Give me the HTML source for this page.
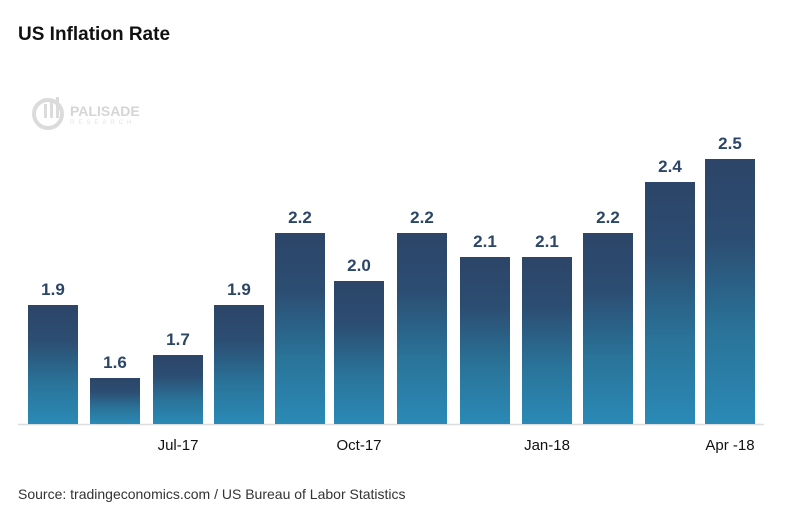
<!DOCTYPE html>
<html><head><meta charset="utf-8"><style>
body{margin:0;background:#fff;width:791px;height:520px;overflow:hidden;font-family:"Liberation Sans",sans-serif}
</style></head><body>
<svg width="791" height="520" xmlns="http://www.w3.org/2000/svg">
<defs><linearGradient id="g" x1="0" y1="0" x2="0" y2="1">
<stop offset="0" stop-color="#2c4568"/><stop offset="0.3" stop-color="#2c4d72"/><stop offset="0.65" stop-color="#2a7399"/><stop offset="1" stop-color="#2a8ab6"/></linearGradient></defs>
<text x="18" y="40" font-size="19" font-weight="bold" fill="#111">US Inflation Rate</text>
<g opacity="0.35">
<circle cx="48" cy="114" r="14" fill="none" stroke="#999" stroke-width="4"/>
<rect x="44" y="104" width="3" height="14" fill="#999"/><rect x="50" y="100" width="3" height="18" fill="#999"/><rect x="56" y="97" width="3" height="21" fill="#999"/>
<text x="70" y="116" font-size="14" fill="#888" font-weight="bold">PALISADE</text>
<text x="70" y="124" font-size="6" fill="#aaa" letter-spacing="4">RESEARCH</text>
</g>
<line x1="18" y1="424.5" x2="764" y2="424.5" stroke="#ddd" stroke-width="1.5"/>
<g fill="url(#g)">
<rect x="28" y="305" width="50" height="119"/>
<rect x="90" y="378" width="50" height="46"/>
<rect x="153" y="355" width="50" height="69"/>
<rect x="214" y="305" width="50" height="119"/>
<rect x="275" y="233" width="50" height="191"/>
<rect x="334" y="281" width="50" height="143"/>
<rect x="397" y="233" width="50" height="191"/>
<rect x="460" y="257" width="50" height="167"/>
<rect x="522" y="257" width="50" height="167"/>
<rect x="583" y="233" width="50" height="191"/>
<rect x="645" y="182" width="50" height="242"/>
<rect x="705" y="159" width="50" height="265"/>
</g>
<g font-size="17" font-weight="bold" fill="#2c4668" text-anchor="middle">
<text x="53" y="295">1.9</text><text x="115" y="368">1.6</text><text x="178" y="345">1.7</text><text x="239" y="295">1.9</text>
<text x="300" y="223">2.2</text><text x="359" y="271">2.0</text><text x="422" y="223">2.2</text><text x="485" y="247">2.1</text>
<text x="547" y="247">2.1</text><text x="608" y="223">2.2</text><text x="670" y="172">2.4</text><text x="730" y="149">2.5</text>
</g>
<g font-size="15" fill="#111" text-anchor="middle">
<text x="178" y="450">Jul-17</text><text x="359" y="450">Oct-17</text><text x="547" y="450">Jan-18</text><text x="730" y="450">Apr -18</text>
</g>
<text x="18" y="499" font-size="14" fill="#333">Source:  tradingeconomics.com / US Bureau of Labor Statistics</text>
</svg>
</body></html>
